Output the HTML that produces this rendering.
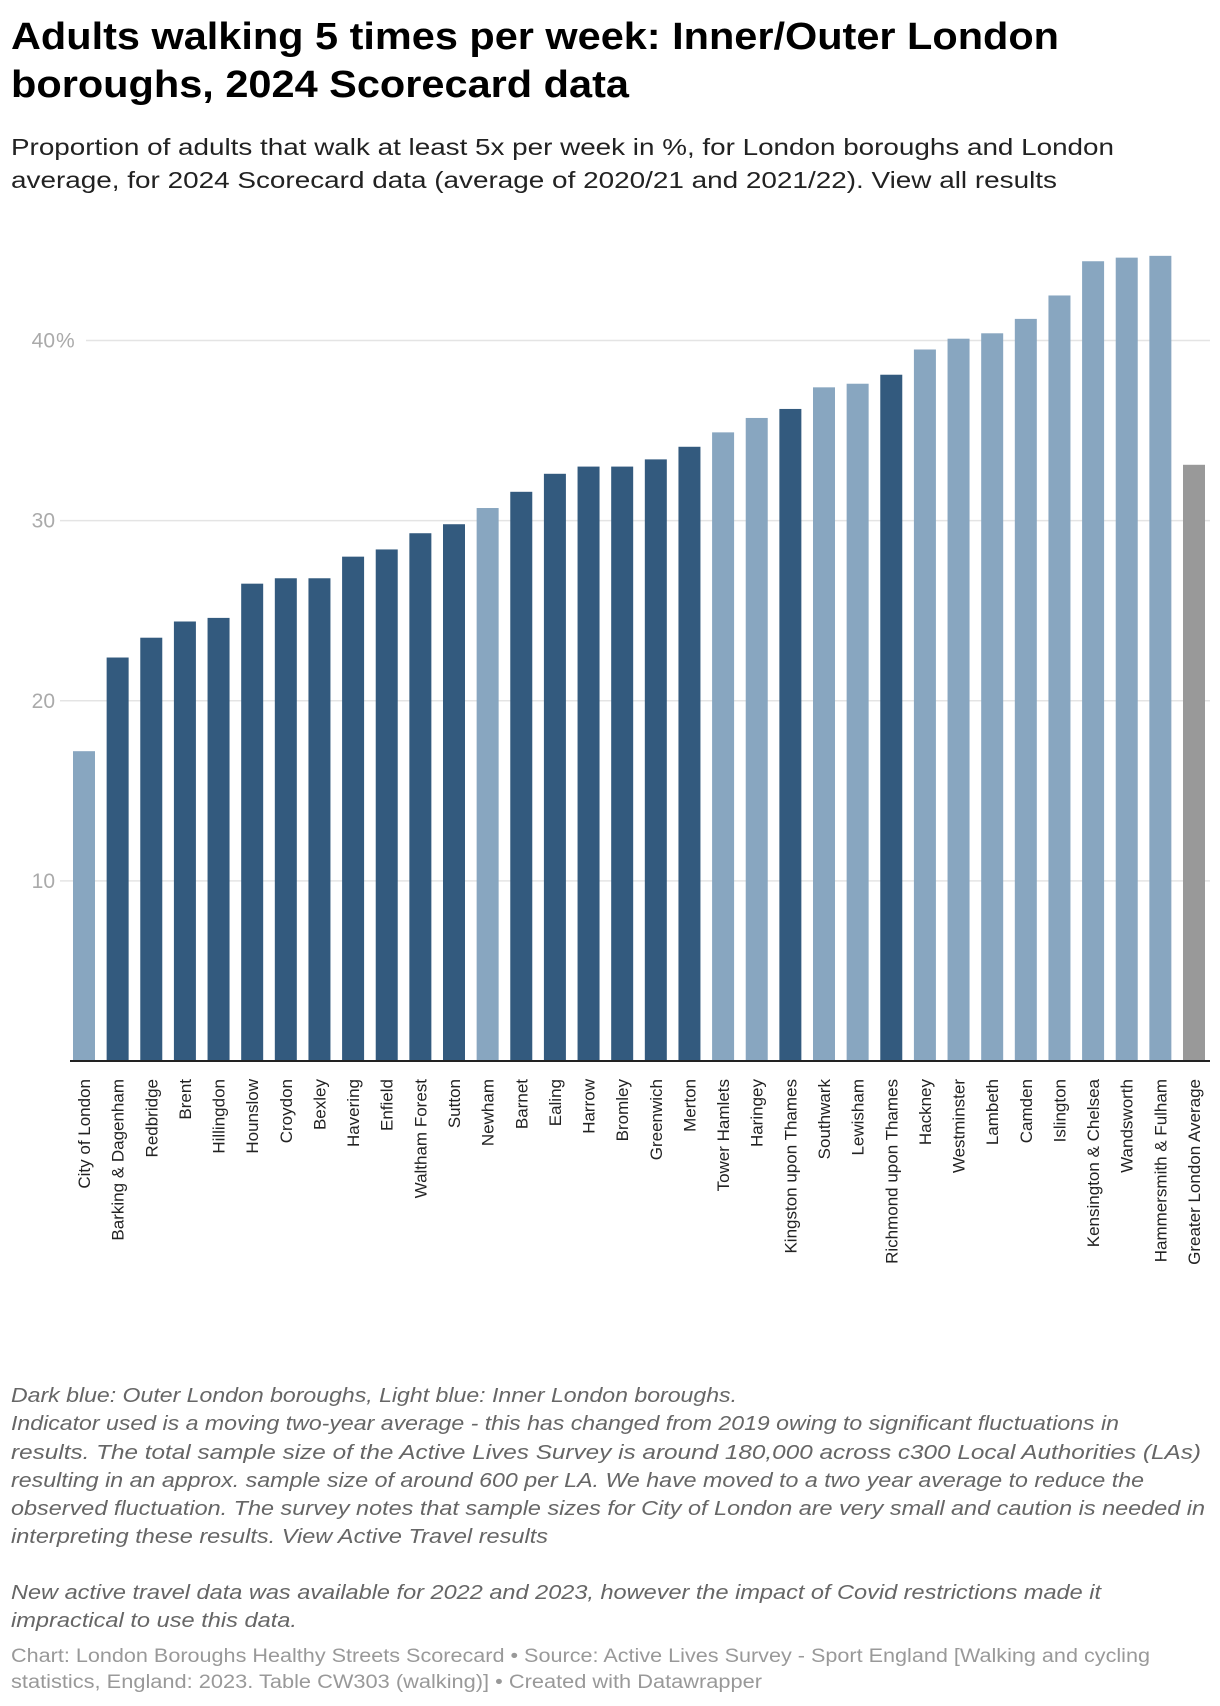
<!DOCTYPE html>
<html><head><meta charset="utf-8"><style>
html,body{margin:0;padding:0;background:#fff;}
svg{display:block;font-family:"Liberation Sans",sans-serif;}
</style></head>
<body>
<svg id="chart" width="1220" height="1706" viewBox="0 0 1220 1706" xmlns="http://www.w3.org/2000/svg">
<g>
<text x="11" y="49" font-size="38" font-weight="bold" fill="#000" textLength="1048" lengthAdjust="spacingAndGlyphs">Adults walking 5 times per week: Inner/Outer London</text>
<text x="11" y="97" font-size="38" font-weight="bold" fill="#000" textLength="618" lengthAdjust="spacingAndGlyphs">boroughs, 2024 Scorecard data</text>
<text x="11" y="155" font-size="23" fill="#222" textLength="1103" lengthAdjust="spacingAndGlyphs">Proportion of adults that walk at least 5x per week in %, for London boroughs and London</text>
<text x="11" y="188" font-size="23" fill="#222" textLength="1046" lengthAdjust="spacingAndGlyphs">average, for 2024 Scorecard data (average of 2020/21 and 2021/22). <tspan>View all results</tspan></text>
</g>
<g id="grid"></g>
<g id="bars"></g>
<g id="xlabels"></g>
<line x1="70" x2="1210" y1="1061" y2="1061" stroke="#222" stroke-width="2"/>
<g font-size="20" font-style="italic" fill="#666">
<text x="11" y="1402" textLength="726" lengthAdjust="spacingAndGlyphs">Dark blue: Outer London boroughs, Light blue: Inner London boroughs.</text>
<text x="11" y="1430" textLength="1108" lengthAdjust="spacingAndGlyphs">Indicator used is a moving two-year average - this has changed from 2019 owing to significant fluctuations in</text>
<text x="11" y="1459" textLength="1190" lengthAdjust="spacingAndGlyphs">results. The total sample size of the Active Lives Survey is around 180,000 across c300 Local Authorities (LAs)</text>
<text x="11" y="1487" textLength="1133" lengthAdjust="spacingAndGlyphs">resulting in an approx. sample size of around 600 per LA. We have moved to a two year average to reduce the</text>
<text x="11" y="1515" textLength="1194" lengthAdjust="spacingAndGlyphs">observed fluctuation. The survey notes that sample sizes for City of London are very small and caution is needed in</text>
<text x="11" y="1543" textLength="537" lengthAdjust="spacingAndGlyphs">interpreting these results. <tspan>View Active Travel results</tspan></text>
<text x="11" y="1599" textLength="1090" lengthAdjust="spacingAndGlyphs">New active travel data was available for 2022 and 2023, however the impact of Covid restrictions made it</text>
<text x="11" y="1627" textLength="286" lengthAdjust="spacingAndGlyphs">impractical to use this data.</text>
</g>
<g font-size="19" fill="#999">
<text x="11" y="1662" textLength="1139" lengthAdjust="spacingAndGlyphs">Chart: London Boroughs Healthy Streets Scorecard • Source: Active Lives Survey - Sport England [Walking and cycling</text>
<text x="11" y="1688" textLength="751" lengthAdjust="spacingAndGlyphs">statistics, England: 2023. Table CW303 (walking)] • Created with Datawrapper</text>
</g>
</svg>
<script>
const categories = ["City of London","Barking & Dagenham","Redbridge","Brent","Hillingdon","Hounslow","Croydon","Bexley","Havering","Enfield","Waltham Forest","Sutton","Newham","Barnet","Ealing","Harrow","Bromley","Greenwich","Merton","Tower Hamlets","Haringey","Kingston upon Thames","Southwark","Lewisham","Richmond upon Thames","Hackney","Westminster","Lambeth","Camden","Islington","Kensington & Chelsea","Wandsworth","Hammersmith & Fulham","Greater London Average"];
const values = [17.2,22.4,23.5,24.4,24.6,26.5,26.8,26.8,28.0,28.4,29.3,29.8,30.7,31.6,32.6,33.0,33.0,33.4,34.1,34.9,35.7,36.2,37.4,37.6,38.1,39.5,40.1,40.4,41.2,42.5,44.4,44.6,44.7,33.1];
const groups = ["inner","outer","outer","outer","outer","outer","outer","outer","outer","outer","outer","outer","inner","outer","outer","outer","outer","outer","outer","inner","inner","outer","inner","inner","outer","inner","inner","inner","inner","inner","inner","inner","inner","avg"];
const yTicks = [10,20,30,40];
const yTickLabels = ["10","20","30","40"];
const yTickSuffix = ["","","","%"];

const NS = "http://www.w3.org/2000/svg";
const y0 = 1061, y40 = 340.5;
function yScale(v){ return y0 - (y0 - y40) * v / 40; }
const x0 = 73, pitch = (1183 - 73) / 33, bw = 22;
function xScale(i){ return x0 + i * pitch; }
const colors = {inner:"#88a6c0", outer:"#335a7e", avg:"#999999"};

const grid = document.getElementById("grid");
yTicks.forEach((t, i) => {
  const l = document.createElementNS(NS, "line");
  l.setAttribute("x1", 16); l.setAttribute("x2", 1210);
  l.setAttribute("y1", yScale(t)); l.setAttribute("y2", yScale(t));
  l.setAttribute("stroke", "#e4e4e4"); l.setAttribute("stroke-width", 1.5);
  
  
  grid.appendChild(l);
  const bg = document.createElementNS(NS, "rect");
  bg.setAttribute("x", 14); bg.setAttribute("y", yScale(t) - 13);
  bg.setAttribute("width", yTickSuffix[i] ? 72 : 46); bg.setAttribute("height", 26); bg.setAttribute("fill", "#fff");
  
  
  grid.appendChild(bg);
  const tx = document.createElementNS(NS, "text");
  tx.setAttribute("x", 55); tx.setAttribute("y", yScale(t) + 7);
  tx.setAttribute("text-anchor", "end"); tx.setAttribute("font-size", 21); tx.setAttribute("fill", "#aaa");
  tx.textContent = yTickLabels[i];
  
  
  grid.appendChild(tx);
  if (yTickSuffix[i]) {
    const s = document.createElementNS(NS, "text");
    s.setAttribute("x", 56); s.setAttribute("y", yScale(t) + 7);
    s.setAttribute("font-size", 21); s.setAttribute("fill", "#aaa");
    s.textContent = yTickSuffix[i];
    
    
    grid.appendChild(s);
  }
});

const bars = document.getElementById("bars");
const xl = document.getElementById("xlabels");
values.forEach((v, i) => {
  const r = document.createElementNS(NS, "rect");
  r.setAttribute("x", xScale(i)); r.setAttribute("width", bw);
  r.setAttribute("y", yScale(v)); r.setAttribute("height", y0 - yScale(v));
  r.setAttribute("fill", colors[groups[i]]);
  
  
  bars.appendChild(r);
  const t = document.createElementNS(NS, "text");
  const cx = xScale(i) + bw / 2 + 6;
  t.setAttribute("transform", "translate(" + cx + ",1079) rotate(-90)");
  t.setAttribute("text-anchor", "end"); t.setAttribute("font-size", 17); t.setAttribute("fill", "#222");
  t.textContent = categories[i];
  
  
  xl.appendChild(t);
});
</script>
</body></html>
